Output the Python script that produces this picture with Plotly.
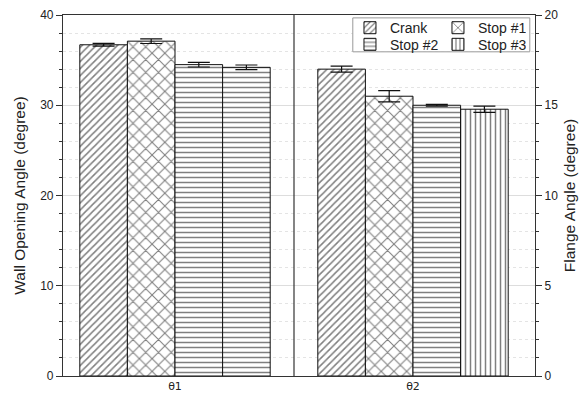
import plotly.graph_objects as go

groups = ["θ1", "θ2"]
series = ["Crank", "Stop #1", "Stop #2", "Stop #3"]
theta1_vals = [36.7, 37.1, 34.5, 34.2]
theta1_err = [0.15, 0.26, 0.26, 0.26]
theta2_vals = [17.0, 15.5, 15.0, 14.78]
theta2_err = [0.17, 0.31, 0.05, 0.17]
theta1_shapes = ["/", "x", "-", "-"]
theta2_shapes = ["/", "x", "-", "|"]
legend_of = ["legend", "legend", "legend2", "legend2"]

offsets = [-0.3, -0.1, 0.1, 0.3]
bar_w = 0.2
ink = "#000000"


def pat(shape):
    if shape == "x":
        return dict(shape=shape, fgcolor=ink, bgcolor="white", size=9, solidity=0.22,
                    fillmode="overlay")
    return dict(shape=shape, fgcolor=ink, bgcolor="white", size=5, solidity=0.3,
                fillmode="overlay")


fig = go.Figure()
for i, name in enumerate(series):
    fig.add_trace(go.Bar(
        x=[0 + offsets[i]], y=[theta1_vals[i]], name=name, showlegend=False,
        error_y=dict(type="data", array=[theta1_err[i]], thickness=1.2, width=11, color="#111"),
        width=bar_w,
        marker=dict(color="white", line=dict(color="#111", width=1), pattern=pat(theta1_shapes[i])),
        yaxis="y"))
for i, name in enumerate(series):
    fig.add_trace(go.Bar(
        x=[1 + offsets[i]], y=[theta2_vals[i]], name=name, showlegend=True,
        legend=legend_of[i],
        error_y=dict(type="data", array=[theta2_err[i]], thickness=1.2, width=11, color="#111"),
        width=bar_w,
        marker=dict(color="white", line=dict(color="#111", width=1), pattern=pat(theta2_shapes[i])),
        yaxis="y2"))

fig.add_shape(type="line", xref="x", yref="paper", x0=0.5, x1=0.5, y0=0, y1=1,
              line=dict(color="#333", width=1.2))
# legend frame
fig.add_shape(type="rect", xref="paper", yref="paper", x0=0.614, x1=0.989, y0=0.898, y1=0.992,
              fillcolor="white", line=dict(color="#999", width=1), layer="above")

leg_common = dict(orientation="h", xanchor="left", yanchor="top",
                  bgcolor="rgba(0,0,0,0)", borderwidth=0,
                  entrywidth=43, entrywidthmode="pixels",
                  font=dict(size=14, color="#222"), itemwidth=30)

fig.update_layout(
    width=579, height=397,
    margin=dict(l=63, r=44, t=15, b=21, autoexpand=False),
    paper_bgcolor="white", plot_bgcolor="white",
    barmode="overlay",
    font=dict(family="Arial, Liberation Sans", size=12, color="#222"),
    xaxis=dict(range=[-0.4706, 1.5126], tickvals=[0, 1], ticktext=groups,
               showgrid=False, zeroline=False, showline=True, linecolor="#333",
               linewidth=1.2, mirror=True, ticks="",
               tickfont=dict(size=11, family="DejaVu Sans"),
               automargin=False),
    yaxis=dict(range=[0, 40], dtick=10, showline=True, linecolor="#333", linewidth=1.2,
               ticks="outside", ticklen=6, tickcolor="#333", zeroline=False,
               showgrid=True, gridcolor="#dddddd", gridwidth=1,
               minor=dict(dtick=2, ticks="outside", ticklen=3, tickcolor="#333",
                          showgrid=True, gridcolor="#e4e4e4", griddash="dot"),
               title=dict(text="Wall Opening Angle (degree)", font=dict(size=15.5), standoff=10),
               tickfont=dict(size=12), automargin=False),
    yaxis2=dict(range=[0, 20], dtick=5, overlaying="y", side="right", showline=True,
                linecolor="#333", linewidth=1.2, ticks="outside", ticklen=6, tickcolor="#333",
                zeroline=False, showgrid=False,
                minor=dict(dtick=1, ticks="outside", ticklen=3, tickcolor="#333", showgrid=False),
                title=dict(text="Flange Angle (degree)", font=dict(size=15.5), standoff=6),
                tickfont=dict(size=12), automargin=False),
    legend=dict(x=0.608, y=1.008, **leg_common),
    legend2=dict(x=0.608, y=0.962, **leg_common),
)

fig.write_html("out.html", config={"displayModeBar": False},
               post_script="document.body.style.margin='0';document.body.style.overflow='hidden';")
